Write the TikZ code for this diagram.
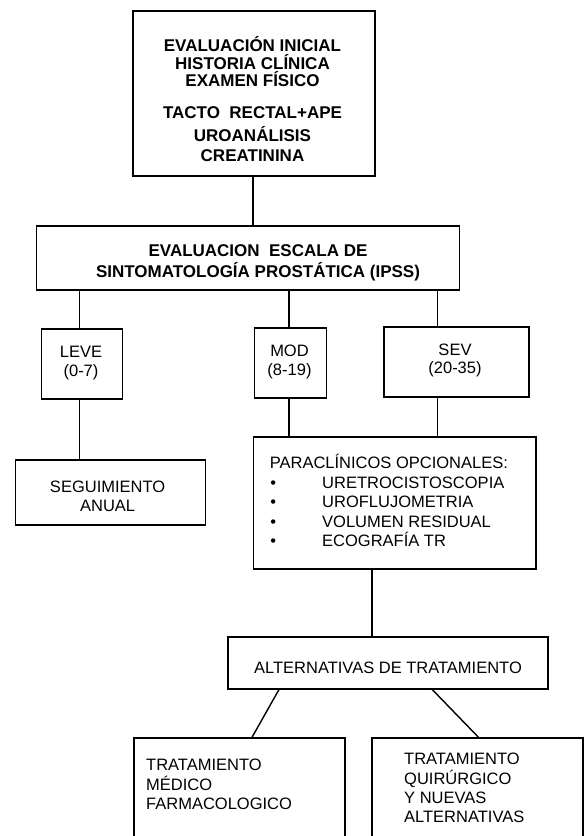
\documentclass[tikz,border=0pt]{standalone}
\usepackage{fontspec}
\setmainfont{Liberation Sans}
\begin{document}
\begin{tikzpicture}[x=1pt,y=-1pt,
  box/.style={draw, line width=1.4pt, inner sep=0pt},
  conn/.style={line width=1.4pt},
  bt/.style={font=\fontsize{17}{20}\selectfont\bfseries, inner sep=0pt, anchor=base},
  rt/.style={font=\fontsize{16.5}{19.5}\selectfont, inner sep=0pt, anchor=base},
  rtl/.style={font=\fontsize{16.5}{19.5}\selectfont, inner sep=0pt, anchor=base west}]
\useasboundingbox (0,0) rectangle (584,836);
\clip (0,0) rectangle (584,836);
% boxes
\node[box, minimum width=242, minimum height=165] (init) at (254,93.5) {};
\node[box, minimum width=423, minimum height=64] (ipss) at (248.2,258) {};
\node[box, minimum width=81, minimum height=70] (leve) at (82,364) {};
\node[box, minimum width=72.3, minimum height=70] (mod) at (290.4,363) {};
\node[box, minimum width=145, minimum height=70] (sev) at (456.5,362) {};
\node[box, minimum width=189.5, minimum height=65] (seg) at (110.5,492.5) {};
\node[box, minimum width=282.6, minimum height=132] (para) at (394.8,503) {};
\node[box, minimum width=320, minimum height=52] (alt) at (388,663) {};
\node[box, minimum width=210.8, minimum height=120] (med) at (239.4,798) {};
\node[box, minimum width=210.8, minimum height=120] (qx) at (477.5,798) {};
% texts
\node[bt] (i1) at (252.5,51) {EVALUACIÓN INICIAL};
\node[bt] (i2) at (252.5,69) {HISTORIA CLÍNICA};
\node[bt] (i3) at (252.5,86) {EXAMEN FÍSICO};
\node[bt] (i4) at (252.5,118) {TACTO\ \ RECTAL+APE};
\node[bt] (i5) at (252.5,141) {UROANÁLISIS};
\node[bt] (i6) at (252.5,161) {CREATININA};
\node[bt] (p1) at (258,256) {EVALUACION\ \ ESCALA DE};
\node[bt] (p2) at (258,277) {SINTOMATOLOGÍA PROSTÁTICA (IPSS)};
\node[rt] (l1) at (81,357) {LEVE};
\node[rt] (l2) at (81,376) {(0-7)};
\node[rt] (m1) at (289.5,356) {MOD};
\node[rt] (m2) at (289.5,375) {(8-19)};
\node[rt] (s1) at (455,355) {SEV};
\node[rt] (s2) at (455,373) {(20-35)};
\node[rt] (g1) at (107.6,492) {SEGUIMIENTO};
\node[rt] (g2) at (107.6,511) {ANUAL};
\node[rtl] (h0) at (269.6,468) {PARACLÍNICOS OPCIONALES:};
\foreach \t/\yy [count=\k] in {URETROCISTOSCOPIA/488, UROFLUJOMETRIA/507.7, VOLUMEN RESIDUAL/527.3, ECOGRAFÍA TR/546}{
  \node[rt] (b\k) at (273.3,\yy) {•};
  \node[rtl] (h\k) at (322,\yy) {\t};
}
\node[rt] (a1) at (388,673) {ALTERNATIVAS DE TRATAMIENTO};
\node[rtl] (d1) at (146,770) {TRATAMIENTO};
\node[rtl] (d2) at (146,790) {MÉDICO};
\node[rtl] (d3) at (146,809) {FARMACOLOGICO};
\node[rtl] (q1) at (404,764) {TRATAMIENTO};
\node[rtl] (q2) at (404,784) {QUIRÚRGICO};
\node[rtl] (q3) at (404,803) {Y NUEVAS};
\node[rtl] (q4) at (404,822) {ALTERNATIVAS};
% connector x positions
\coordinate (xa) at (79.7,0);
\coordinate (xb) at (289,0);
\coordinate (xc) at (437.3,0);
\coordinate (xd) at (371.8,0);
\coordinate (xt) at (253,0);
\draw[conn] (init.south -| xt) -- (ipss.north -| xt);
\draw[conn] (ipss.south -| xa) -- (leve.north -| xa);
\draw[conn] (ipss.south -| xb) -- (mod.north -| xb);
\draw[conn] (ipss.south -| xc) -- (sev.north -| xc);
\draw[conn] (leve.south -| xa) -- (seg.north -| xa);
\draw[conn] (mod.south -| xb) -- (para.north -| xb);
\draw[conn] (sev.south -| xc) -- (para.north -| xc);
\draw[conn] (para.south -| xd) -- (alt.north -| xd);
\draw[conn] ([xshift=-109.1pt]alt.south) -- ([xshift=12.6pt]med.north);
\draw[conn] ([xshift=44.4pt]alt.south) -- ([xshift=1pt]qx.north);
\end{tikzpicture}
\end{document}
